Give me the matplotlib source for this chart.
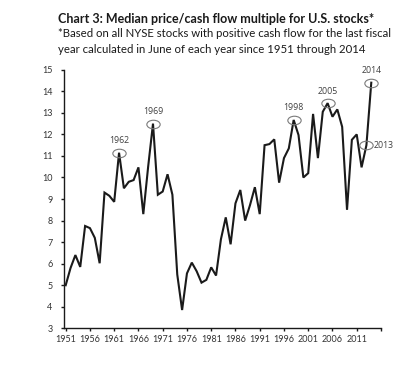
import matplotlib
matplotlib.use("Agg")
import matplotlib.pyplot as plt
from matplotlib.markers import MarkerStyle
from matplotlib.path import Path
from matplotlib.transforms import Affine2D

years = list(range(1951, 2015))
multiple = [
    5.0, 5.8, 6.4, 5.85, 7.75, 7.65, 7.2, 6.02, 9.3, 9.15,
    8.87, 11.15, 9.5, 9.8, 9.88, 10.47, 8.3, 10.5, 12.5, 9.2,
    9.35, 10.15, 9.2, 5.5, 3.85, 5.55, 6.05, 5.65, 5.12, 5.25,
    5.83, 5.45, 7.13, 8.15, 6.9, 8.8, 9.42, 8.0, 8.72, 9.55,
    8.3, 11.5, 11.55, 11.77, 9.76, 10.9, 11.35, 12.67, 11.97, 10.0,
    10.2, 12.95, 10.9, 13.05, 13.45, 12.82, 13.16, 12.35, 8.5, 11.75,
    12.0, 10.47, 11.5, 14.4,
]
highlight_years = [1962, 1969, 1998, 2005, 2014]
side_label_years = [2013]
x_tick_years = list(range(1951, 2015, 5))
y_ticks = list(range(3, 16))

title = "Chart 3: Median price/cash flow multiple for U.S. stocks*"
subtitle = ("*Based on all NYSE stocks with positive cash flow for the last fiscal\n"
            "year calculated in June of each year since 1951 through 2014")

plt.rcParams['font.family'] = ['Lato', 'DejaVu Sans']

fig = plt.figure(figsize=(4.04, 3.71), dpi=100)
ax = fig.add_axes([0.159, 0.115, 0.784, 0.697])

ax.plot(years, multiple, color='#1a1a1a', lw=1.5, solid_joinstyle='miter', zorder=3)

ell = MarkerStyle(Path.unit_circle(), transform=Affine2D().scale(1.0, 0.64))
lookup = dict(zip(years, multiple))
for yr in highlight_years + side_label_years:
    ax.plot([yr], [lookup[yr]], marker=ell, ms=9.6, mfc='none', mec='#7a7a7a',
            mew=0.8, ls='none', zorder=4)
for yr in highlight_years:
    ax.annotate(str(yr), (yr, lookup[yr]), xytext=(0, 5.5), textcoords='offset points',
                ha='center', va='bottom', fontsize=6.3, color='#404040',
                family=['Open Sans', 'DejaVu Sans'])
for yr in side_label_years:
    ax.annotate(str(yr), (yr, lookup[yr]), xytext=(5.5, 0), textcoords='offset points',
                ha='left', va='center', fontsize=6.3, color='#404040',
                family=['Open Sans', 'DejaVu Sans'])

ax.set_xlim(1950.7, 2016)
ax.set_ylim(3, 15)
ax.set_xticks(x_tick_years + [2016])
ax.set_xticklabels([str(y) for y in x_tick_years] + [''])
ax.set_yticks(y_ticks)
ax.set_yticklabels([str(v) for v in y_ticks])
for s in ['top', 'right']:
    ax.spines[s].set_visible(False)
for s in ['left', 'bottom']:
    ax.spines[s].set_color('#1a1a1a')
    ax.spines[s].set_linewidth(1.0)
ax.tick_params(axis='y', direction='out', length=2.5, width=1.0, pad=6, labelsize=6.5,
               colors='#1a1a1a', labelcolor='#333333')
ax.tick_params(axis='x', direction='out', length=2.5, width=1.0, pad=2.5, labelsize=6.5,
               colors='#1a1a1a', labelcolor='#333333')

fig.text(0.144, 0.948, title, fontsize=9.0, fontweight='bold', color='#1a1a1a',
         ha='left', va='center')
fig.text(0.144, 0.924, subtitle, fontsize=8.2, color='#1a1a1a', ha='left', va='top',
         linespacing=1.55)

fig.savefig('out.png', dpi=100, facecolor='white')
